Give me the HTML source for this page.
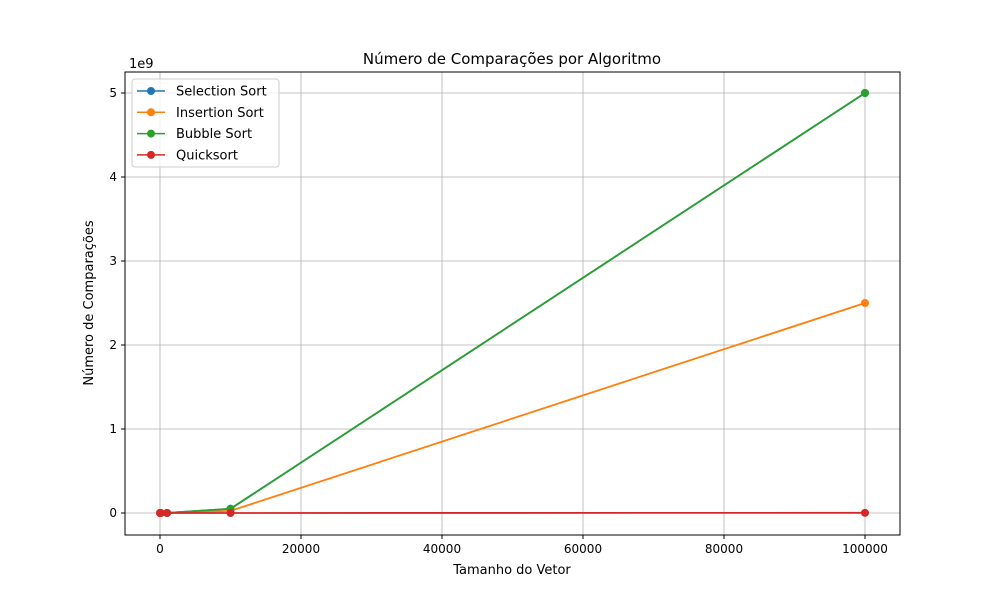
<!DOCTYPE html>
<html><head><meta charset="utf-8"><style>
body{margin:0;background:#fff;font-family:"Liberation Sans","DejaVu Sans",sans-serif}
svg text{font-family:"DejaVu Sans","Liberation Sans",sans-serif;fill:#000}
</style></head><body>
<svg id="chart" width="1000" height="600" xmlns="http://www.w3.org/2000/svg">
<rect width="1000" height="600" fill="#fff"/>
<g id="grid"></g><g id="series"></g><g id="axes"></g>
<text x="512" y="64" font-size="15" text-anchor="middle">Número de Comparações por Algoritmo</text>
<text x="512" y="574" font-size="13" text-anchor="middle">Tamanho do Vetor</text>
<text x="93" y="303" font-size="13" text-anchor="middle" transform="rotate(-90 93 303)">Número de Comparações</text>
<text x="129" y="68" font-size="13">1e9</text>
<g id="legend"></g>
</svg>
<script>
const sizes=[10,100,1000,10000,100000];
const seriesNames=["Selection Sort","Insertion Sort","Bubble Sort","Quicksort"];
const colors=["#1f77b4","#ff7f0e","#2ca02c","#d62728"];
const selection=[45,4950,499500,49995000,4999950000];
const insertion=[25,2500,250000,25000000,2500000000];
const bubble=[45,4950,499500,49995000,4999950000];
const quick=[30,700,11000,160000,2000000];
const xTicks=[0,20000,40000,60000,80000,100000];
const yTicks=[0,1,2,3,4,5];
const L=125,R=900,T=72,B=535;
const X=v=>160+v*705/100000;
const Y=v=>513-v*84/1e9;
const NS="http://www.w3.org/2000/svg";
function mk(t,a,p){const e=document.createElementNS(NS,t);for(const k in a)e.setAttribute(k,a[k]);p.appendChild(e);return e;}
const grid=document.getElementById('grid'),axes=document.getElementById('axes'),ser=document.getElementById('series'),leg=document.getElementById('legend');
xTicks.forEach(t=>{const x=X(t);
const g=mk('line',{x1:x,x2:x,y1:T,y2:B,stroke:'#b0b0b0','stroke-width':0.8},grid);


mk('line',{x1:x,x2:x,y1:B,y2:B+4,stroke:'#000'},axes);
const tx=mk('text',{x:x,y:B+18,'font-size':12,'text-anchor':'middle'},axes);tx.textContent=t;

});
yTicks.forEach(t=>{const y=Y(t*1e9);
const g=mk('line',{x1:L,x2:R,y1:y,y2:y,stroke:'#b0b0b0','stroke-width':0.8},grid);


mk('line',{x1:L-4,x2:L,y1:y,y2:y,stroke:'#000'},axes);
const tx=mk('text',{x:L-8,y:y+4,'font-size':12,'text-anchor':'end'},axes);tx.textContent=t;

});
const fr=mk('rect',{x:L,y:T,width:R-L,height:B-T,fill:'none',stroke:'#000','stroke-width':1},axes);


[selection,insertion,bubble,quick].forEach((d,i)=>{
const g=mk('g',{},ser);


mk('polyline',{points:sizes.map((s,j)=>X(s)+','+Y(d[j])).join(' '),fill:'none',stroke:colors[i],'stroke-width':1.8},g);
sizes.forEach((s,j)=>{const c=mk('circle',{cx:X(s),cy:Y(d[j]),r:4,fill:colors[i]},g);

});
});
const lb=mk('rect',{x:132,y:79,width:147,height:88,rx:3,fill:'#fff','fill-opacity':0.8,stroke:'#ccc'},leg);


seriesNames.forEach((n,i)=>{const y=91+i*21.3;
const g=mk('g',{},leg);


mk('line',{x1:137,x2:165,y1:y,y2:y,stroke:colors[i],'stroke-width':1.5},g);
mk('circle',{cx:151,cy:y,r:4,fill:colors[i]},g);
const t=mk('text',{x:176,y:y+4.5,'font-size':13},g);t.textContent=n;});
</script>
</body></html>
